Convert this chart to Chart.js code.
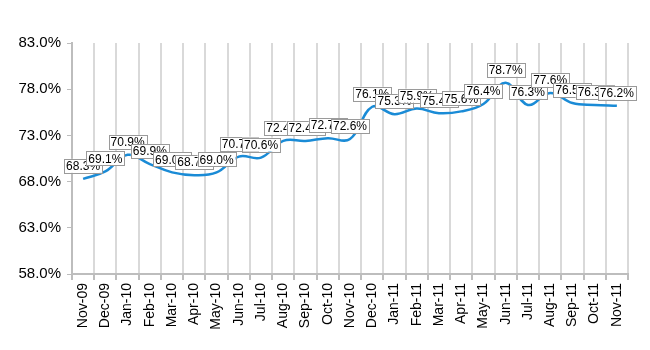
<!DOCTYPE html>
<html>
<head>
<meta charset="utf-8">
<script src="https://cdn.jsdelivr.net/npm/chart.js@4/dist/chart.umd.min.js"></script>
<style>
  html, body { margin: 0; padding: 0; background: #fff; }
  #wrap { width: 650px; height: 350px; }
</style>
</head>
<body>
<div id="wrap"><canvas id="rateChart"></canvas></div>
<script>
const months = ['Nov-09', 'Dec-09', 'Jan-10', 'Feb-10', 'Mar-10', 'Apr-10', 'May-10', 'Jun-10',
    'Jul-10', 'Aug-10', 'Sep-10', 'Oct-10', 'Nov-10', 'Dec-10', 'Jan-11', 'Feb-11', 'Mar-11',
    'Apr-11', 'May-11', 'Jun-11', 'Jul-11', 'Aug-11', 'Sep-11', 'Oct-11', 'Nov-11'];
const rates = [68.3, 69.1, 70.9, 69.9, 69.0, 68.7, 69.0, 70.7, 70.6, 72.4, 72.4, 72.7, 72.6,
    76.1, 75.3, 75.9, 75.4, 75.6, 76.4, 78.7, 76.3, 77.6, 76.5, 76.3, 76.2];
const yMin = 58;
const yMax = 83;
const yStep = 5;

// boxed value labels sitting just above each point
const valueBoxes = {
    id: 'valueBoxes',
    afterDatasetsDraw(chart) {
        const ctx = chart.ctx;
        const meta = chart.getDatasetMeta(0);
        ctx.save();
        ctx.font = '12px "Liberation Sans", Arial, sans-serif';
        ctx.textBaseline = 'middle';
        ctx.textAlign = 'center';
        meta.data.forEach((pt, i) => {
            const text = rates[i].toFixed(1) + '%';
            const w = ctx.measureText(text).width + 4;
            const h = 14;
            const cx = pt.x;
            const cy = pt.y - 13;
            ctx.fillStyle = '#ffffff';
            ctx.fillRect(cx - w / 2, cy - h / 2, w, h);
            ctx.strokeStyle = '#9a9a9a';
            ctx.lineWidth = 1;
            ctx.strokeRect(Math.round(cx - w / 2) + 0.5, Math.round(cy - h / 2) + 0.5, Math.round(w), h);
            ctx.fillStyle = '#000000';
            ctx.fillText(text, cx, cy + 1);
        });
        ctx.restore();
    }
};

const ctx = document.getElementById('rateChart').getContext('2d');
new Chart(ctx, {
    type: 'line',
    data: {
        labels: months,
        datasets: [{
            data: rates,
            borderColor: '#1a8bd6',
            borderWidth: 2.5,
            pointRadius: 0,
            tension: 0.4,
            fill: false
        }]
    },
    options: {
        responsive: true,
        maintainAspectRatio: false,
        animation: false,
        layout: { padding: { top: 43, right: 22, left: 0, bottom: 0 } },
        plugins: {
            legend: { display: false },
            tooltip: { enabled: false }
        },
        scales: {
            x: {
                offset: true,
                grid: {
                    offset: true,
                    color: '#d9d9d9',
                    lineWidth: 2,
                    tickLength: 6,
                    tickColor: '#bdbdbd'
                },
                border: { color: '#bdbdbd', width: 2 },
                ticks: {
                    minRotation: 90,
                    maxRotation: 90,
                    autoSkip: false,
                    color: '#000',
                    font: { family: '"Liberation Sans", Arial, sans-serif', size: 14 },
                    padding: 3
                },
                afterFit(scale) { scale.height = 76; }
            },
            y: {
                min: yMin,
                max: yMax,
                ticks: {
                    stepSize: yStep,
                    color: '#000',
                    font: { family: '"Liberation Sans", Arial, sans-serif', size: 15 },
                    padding: 6,
                    callback: v => v.toFixed(1) + '%'
                },
                grid: {
                    drawOnChartArea: false,
                    tickLength: 5,
                    tickColor: '#bdbdbd'
                },
                border: { color: '#bdbdbd', width: 2 },
                afterFit(scale) { scale.width = 72; }
            }
        }
    },
    plugins: [valueBoxes]
});
</script>
</body>
</html>
